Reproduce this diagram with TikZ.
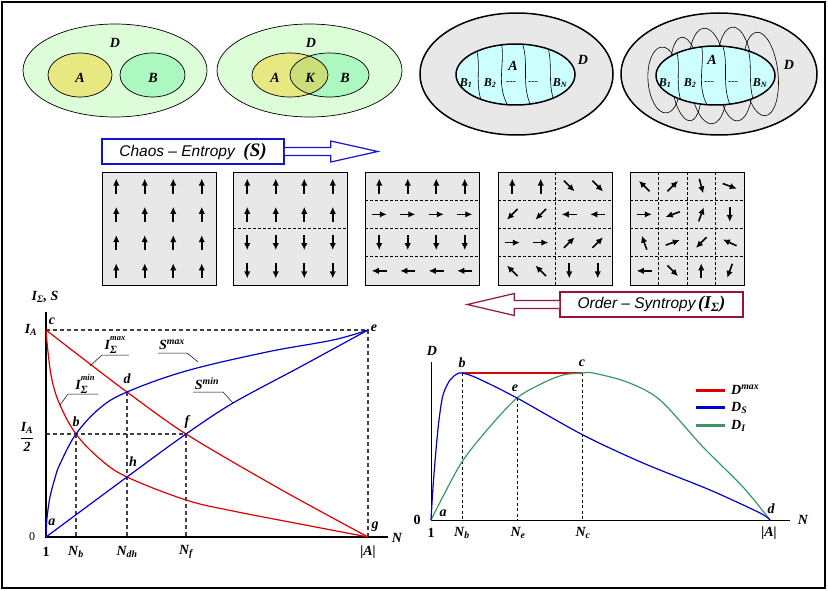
\documentclass[tikz,border=0pt]{standalone}
\usepackage{fontspec}
\setmainfont{Liberation Serif}
\newfontfamily\boxfont{Liberation Sans}
\usetikzlibrary{arrows.meta}

\definecolor{setD}{RGB}{221,252,216}
\definecolor{setA}{RGB}{232,232,130}
\definecolor{setB}{RGB}{172,248,192}
\definecolor{setK}{RGB}{204,222,122}
\definecolor{panel}{RGB}{232,232,232}
\definecolor{core}{RGB}{204,255,255}
\definecolor{curvered}{RGB}{220,0,0}
\definecolor{curveblue}{RGB}{0,0,200}
\definecolor{curvegreen}{RGB}{60,150,100}
\definecolor{chaosblue}{RGB}{20,20,200}
\definecolor{orderred}{RGB}{150,20,60}

% one panel of 4x4 spins, #1 = left edge, #2 = visual angles row by row
\newcommand\spinpanel[2]{%
  \foreach \ang [count=\k from 0] in {#2}{%
    \pgfmathsetmacro\cx{#1+14.25+28.5*mod(\k,4)}%
    \pgfmathsetmacro\cy{186.1+28.25*floor(\k/4)}%
    \draw[spin, shift={(\cx,\cy)}, rotate=\ang] (-7.5,0) -- (7.5,0);}}

% wavy borders of B_1 ... B_N, around the centre of the inner ellipse
\newcommand\bands{%
  \draw[band] (-42.5,-34.5) .. controls (-30.5,-9.5) and (-44.5,7.5) .. (-30.5,35.5);
  \draw[band] (-15.5,-36.5) .. controls (-7.5,-12.5) and (-23.5,10.5) .. (-3.5,37.5);
  \draw[band] (4.5,-36.5) .. controls (16.5,-12.5) and (2.5,10.5) .. (18.5,37.5);
  \draw[band] (29.5,-34.5) .. controls (40.5,-12.5) and (28.5,10.5) .. (42.5,35.5);}

% index stacked under an upper mark, as in I^max_Sigma
\newcommand\stacked[3]{#1\raisebox{-4pt}{\shortstack[l]{\fontsize{8.5}{8.5}\selectfont #2\\[3pt]\fontsize{11}{11}\selectfont #3}}}

\begin{document}
\begin{tikzpicture}[x=1pt,y=-1pt,
  lbl/.style={font=\fontsize{14}{14}\selectfont\bfseries\itshape, inner sep=0pt},
  sml/.style={font=\fontsize{12}{12}\selectfont\bfseries\itshape, inner sep=0pt},
  dots/.style={font=\fontsize{10}{10}\selectfont, inner sep=0pt},
  spin/.style={line width=1.6pt, -{Latex[length=7pt,width=6.5pt]}},
  grid/.style={draw, fill=panel, line width=0.6pt},
  cut/.style={line width=0.7pt, dash pattern=on 3pt off 2pt},
  band/.style={line width=0.6pt},
  blob/.style={line width=0.6pt},
  help/.style={line width=1.1pt, black!75, dash pattern=on 4pt off 3pt},
  thin help/.style={line width=0.7pt, dash pattern=on 3pt off 2.5pt},
  axis/.style={line width=1.6pt},
  lead/.style={line width=0.5pt},
  redc/.style={curvered, line width=1.2pt},
  bluec/.style={curveblue, line width=1.2pt},
  greenc/.style={curvegreen, line width=1.2pt},
  chaosbox/.style={draw=chaosblue, line width=1.6pt, fill=white, minimum width=182pt,
    minimum height=25pt, inner sep=0pt},
  orderbox/.style={draw=orderred, line width=1.4pt, fill=white, minimum width=183pt,
    minimum height=25pt, inner sep=0pt},
  chaosarrow/.style={draw=chaosblue, line width=1.2pt, fill=white},
  orderarrow/.style={draw=orderred, line width=1.2pt, fill=white}]
\useasboundingbox (0,0) rectangle (828,591);
\draw[line width=2.4pt] (2,2) rectangle (825,588);

% sets D, A, B
\filldraw[fill=setD, line width=0.7pt] (115,70.5) ellipse [x radius=92pt, y radius=46.5pt];
\filldraw[fill=setA, line width=0.7pt] (80,75) ellipse [x radius=32pt, y radius=22pt];
\filldraw[fill=setB, line width=0.7pt] (152.5,75) ellipse [x radius=32.5pt, y radius=22pt];
\node[lbl] (d1) at (115,43) {D};
\node[lbl] (a1) at (80,78) {A};
\node[lbl] (b1) at (153,78) {B};

\filldraw[fill=setD, line width=0.7pt] (309.5,70.5) ellipse [x radius=92.5pt, y radius=46.5pt];
\fill[setA] (290,75) ellipse [x radius=38pt, y radius=22pt];
\fill[setB] (329.5,75) ellipse [x radius=39.5pt, y radius=22pt];
\begin{scope}
  \clip (290,75) ellipse [x radius=38pt, y radius=22pt];
  \fill[setK] (329.5,75) ellipse [x radius=39.5pt, y radius=22pt];
\end{scope}
\draw[line width=0.7pt] (290,75) ellipse [x radius=38pt, y radius=22pt];
\draw[line width=0.7pt] (329.5,75) ellipse [x radius=39.5pt, y radius=22pt];
\node[lbl] (d2) at (311,43) {D};
\node[lbl] (a2) at (275,78) {A};
\node[lbl] (k2) at (310,78) {K};
\node[lbl] (b2) at (345,78) {B};

% partition of A
\filldraw[fill=panel, line width=1.5pt] (516.5,74) ellipse [x radius=96.5pt, y radius=61pt];
\fill[core] (515.5,74.5) ellipse [x radius=59.5pt, y radius=30.5pt];
\begin{scope}[shift={(515.5,74.5)}]
  \clip (0,0) ellipse [x radius=59.5pt, y radius=30.5pt];
  \bands
\end{scope}
\draw[line width=1.5pt] (515.5,74.5) ellipse [x radius=59.5pt, y radius=30.5pt];
\node[lbl] (a3) at (513,66) {A};
\node[lbl] (d3) at (583,60) {D};
\node[sml] (b31) at (466,83) {B\textsubscript{1}};
\node[sml] (b32) at (490,83) {B\textsubscript{2}};
\node[dots] (g31) at (511,83) {-{}-{}-};
\node[dots] (g32) at (533,83) {-{}-{}-};
\node[sml] (b3n) at (560,83) {B\textsubscript{N}};

% covering of A
\filldraw[fill=panel, line width=1.5pt] (719,74) ellipse [x radius=98pt, y radius=61pt];
\draw[blob, rotate around={4:(664,80)}] (664,80) ellipse [x radius=16pt, y radius=33pt];
\draw[blob, rotate around={6:(686,79)}] (686,79) ellipse [x radius=15pt, y radius=42pt];
\draw[blob, rotate around={5:(708,76)}] (708,76) ellipse [x radius=19pt, y radius=48pt];
\draw[blob, rotate around={3:(735,74)}] (735,74) ellipse [x radius=18pt, y radius=47pt];
\draw[blob, rotate around={6:(761,74)}] (761,74) ellipse [x radius=17pt, y radius=42pt];
\fill[core] (715.5,75.5) ellipse [x radius=59.5pt, y radius=29.5pt];
\begin{scope}[shift={(715.5,75.5)}]
  \clip (0,0) ellipse [x radius=59.5pt, y radius=29.5pt];
  \bands
\end{scope}
\draw[line width=1.5pt] (715.5,75.5) ellipse [x radius=59.5pt, y radius=29.5pt];
\node[lbl] (a4) at (712,60) {A};
\node[lbl] (d4) at (789,65) {D};
\node[sml] (b41) at (665,83) {B\textsubscript{1}};
\node[sml] (b42) at (690,83) {B\textsubscript{2}};
\node[dots] (g41) at (709,83) {-{}-{}-};
\node[dots] (g42) at (733,83) {-{}-{}-};
\node[sml] (b4n) at (760,83) {B\textsubscript{N}};

% chaos arrow
\node[chaosbox] (chaos) at (193,151.5) {\boxfont\itshape\fontsize{15.5}{15.5}\selectfont Chaos – Entropy\ \ {\rmfamily\bfseries\fontsize{19}{19}\selectfont(\textit{S})}};
\draw[chaosarrow] ([yshift=4pt]chaos.east) -- ++(46,0) -- ++(0,-6.5) -- ++(47,10.5)
  -- ++(-47,10.5) -- ++(0,-6.5) -- ([yshift=-4pt]chaos.east);

% spin panels
\foreach \px in {102,233,365,498,630} \draw[grid] (\px,172) rectangle ++(114,113);
\draw[cut] (233,228.5) -- ++(114,0);
\foreach \dy in {28.25,56.5,84.75} {
  \draw[cut] (365,172+\dy) -- ++(114,0);
  \draw[cut] (498,172+\dy) -- ++(114,0);
  \draw[cut] (630,172+\dy) -- ++(114,0);}
\draw[cut] (555,172) -- ++(0,113);
\foreach \dx in {28.5,57,85.5} \draw[cut] (630+\dx,172) -- ++(0,113);
\spinpanel{102}{90,90,90,90,90,90,90,90,90,90,90,90,90,90,90,90}
\spinpanel{233}{90,90,90,90,90,90,90,90,270,270,270,270,270,270,270,270}
\spinpanel{365}{90,90,90,90,0,0,0,0,270,270,270,270,180,180,180,180}
\spinpanel{498}{90,90,-45,-45,225,225,180,180,0,0,45,45,135,135,270,270}
\spinpanel{630}{135,45,-75,-20,0,200,70,270,110,20,225,155,180,-45,90,250}

% order arrow
\node[orderbox] (order) at (651.5,304.5) {\boxfont\itshape\fontsize{15.5}{15.5}\selectfont Order – Syntropy\,{\rmfamily\bfseries\fontsize{18}{18}\selectfont(I\textsubscript{Σ})}};
\draw[orderarrow] ([yshift=4pt]order.west) -- ++(-45,0) -- ++(0,-7) -- ++(-47,11)
  -- ++(47,11) -- ++(0,-7) -- ([yshift=-4pt]order.west);

% left plot
\coordinate (La) at (46,537);
\coordinate (Lc) at (46,330);
\coordinate (Lb) at (76,434);
\coordinate (Ld) at (127,392);
\coordinate (Lh) at (127,477);
\coordinate (Lf) at (186,434);
\coordinate (Le) at (368,330);
\coordinate (Lg) at (368,537);
\draw[help] (Lc) -- (Le) -- (Lg);
\draw[help] (La |- Lb) -- (Lf);
\draw[help] (Lb) -- (Lb |- La);
\draw[help] (Ld) -- (Ld |- La);
\draw[help] (Lf) -- (Lf |- La);
\draw[axis] (46,312) -- (La) -- (388,537);
\draw[redc] plot[smooth, tension=0.5] coordinates {(46,330) (90,364) (127,392) (186,434) (280,489) (368,537)};
\draw[redc] plot[smooth, tension=0.6] coordinates {(46,330) (48,352) (52,380) (60,405) (76,434) (100,459) (127,477) (186,500) (233,511) (300,524) (368,537)};
\draw[bluec] plot[smooth, tension=0.6] coordinates {(46,537) (47,518) (50,497) (55,478) (60,464) (76,434) (100,408) (127,392) (186,371) (267,352) (333,340) (368,330)};
\draw[bluec] plot[smooth, tension=0.5] coordinates {(46,537) (127,477) (186,434) (233,403) (300,367) (368,330)};
\draw[lead] (90,366) -- (102,355) -- (129,355);
\draw[lead] (198,362) -- (187,353) -- (158,353);
\draw[lead] (60,405) -- (68,394) -- (98,394);
\draw[lead] (233,403) -- (223,392) -- (193,392);
\node[lbl] (imax) at (115,345) {\stacked{I}{max}{Σ}};
\node[lbl] (smax) at (172,345) {S\textsuperscript{max}};
\node[lbl] (imin) at (85,384) {\stacked{I}{min}{Σ}};
\node[lbl] (smin) at (207,384) {S\textsuperscript{min}};
\node[lbl] (ylab) at (45,297) {I\textsubscript{Σ}, S};
\node[lbl] (ia) at (31,330) {I\textsubscript{A}};
\node[lbl] (half) at (27,437) {$\displaystyle\frac{\mbox{I\textsubscript{A}}}{\mbox{2}}$};
\node[font=\fontsize{12}{12}\selectfont, inner sep=0pt] (zl) at (32,537) {0};
\node[lbl, font=\fontsize{14}{14}\selectfont\bfseries] (onel) at (46,552) {1};
\node[lbl] (nb) at (76,552) {N\textsubscript{b}};
\node[lbl] (ndh) at (127,552) {N\textsubscript{dh}};
\node[lbl] (nf) at (186,552) {N\textsubscript{f}};
\node[lbl] (al) at (368,552) {|A|};
\node[lbl] (nl) at (397,538) {N};
\node[lbl] (pc) at (52,321) {c};
\node[lbl] (pa) at (52,522) {a};
\node[lbl] (pb) at (76,422) {b};
\node[lbl] (pd) at (127,379) {d};
\node[lbl] (pf) at (187,422) {f};
\node[lbl] (ph) at (133,462) {h};
\node[lbl] (pe) at (374,328) {e};
\node[lbl] (pg) at (375,527) {g};

% right plot
\coordinate (Ra) at (431,520);
\coordinate (Rb) at (462,373);
\coordinate (Re) at (517,398);
\coordinate (Rc) at (582,373);
\coordinate (Rd) at (770,520);
\draw[thin help] (Rb) -- (Rb |- Ra);
\draw[thin help] (Re) -- (Re |- Ra);
\draw[thin help] (Rc) -- (Rc |- Ra);
\draw[line width=0.9pt] (431,362) -- (Ra) -- (790,520);
\draw[curvered, line width=2.2pt] (Rb) -- (Rc);
\draw[greenc] plot[smooth, tension=0.5] coordinates {(431,520) (460,465) (487,430) (517,398) (543,383) (563,375) (582,373) (593,373) (627,382) (660,400) (703,447) (743,487) (770,520)};
\draw[bluec] plot[smooth, tension=0.5] coordinates {(431,520) (433,487) (436,450) (439,420) (443,395) (450,380) (457,374) (462,373) (477,378) (517,398) (583,435) (643,463) (710,490) (760,513) (770,520)};
\draw[curvered, line width=3pt] (696,390) -- (725,390);
\draw[curveblue, line width=3pt] (696,407) -- (725,407);
\draw[curvegreen, line width=3pt] (696,425) -- (725,425);
\node[lbl, anchor=west] (ldmax) at (731,390) {D\textsuperscript{max}};
\node[lbl, anchor=west] (lds) at (731,408) {D\textsubscript{S}};
\node[lbl, anchor=west] (ldi) at (731,426) {D\textsubscript{I}};
\node[lbl] (dlab) at (432,351) {D};
\node[lbl, font=\fontsize{14}{14}\selectfont\bfseries] (zr) at (417,520) {0};
\node[lbl, font=\fontsize{14}{14}\selectfont\bfseries] (oner) at (431,533) {1};
\node[lbl] (rnb) at (462,533) {N\textsubscript{b}};
\node[lbl] (rne) at (518,533) {N\textsubscript{e}};
\node[lbl] (rnc) at (583,533) {N\textsubscript{c}};
\node[lbl] (ra) at (769,533) {|A|};
\node[lbl] (rn) at (803,520) {N};
\node[lbl] (qa) at (443,513) {a};
\node[lbl] (qb) at (462,363) {b};
\node[lbl] (qc) at (582,363) {c};
\node[lbl] (qe) at (515,388) {e};
\node[lbl] (qd) at (771,509) {d};
\end{tikzpicture}
\end{document}
